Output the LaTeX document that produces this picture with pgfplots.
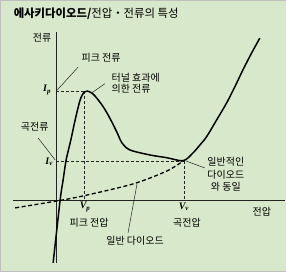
\documentclass[border=0pt]{standalone}
\usepackage{pgfplots}
\pgfplotsset{compat=1.18}
\usepackage{fontspec}
\setmainfont{Noto Sans CJK KR}
\newfontfamily\serif{Liberation Serif}
\definecolor{bg}{RGB}{216,232,202}
\definecolor{ink}{RGB}{35,35,35}
\begin{document}
\begin{tikzpicture}
\begin{axis}[x=1pt, y=1pt, xmin=-56, xmax=230, ymin=-70.5, ymax=200.5,
  hide axis, clip=false, scale only axis,
  every node/.style={text=ink, font=\fontsize{10}{12}\selectfont, inner sep=0pt}]
% background
\addplot[fill=bg, draw=black!25, line width=0.5pt] coordinates {(-56,-70.5) (230,-70.5) (230,200.5) (-56,200.5)} -- cycle;
% axes
\addplot[ink, line width=0.8pt] coordinates {(-43,0) (229,0)};
\addplot[ink, line width=0.8pt] coordinates {(0,-62.5) (0,168.5)};
% guide dashed lines
\addplot[ink, line width=0.7pt, dash pattern=on 3pt off 2pt] coordinates {(0,109.5) (29,109.5) (28,109.5) (28,0)};
\addplot[ink, line width=0.7pt, dash pattern=on 3pt off 2pt] coordinates {(0,39.5) (128,39.5)};
\addplot[ink, line width=0.7pt, dash pattern=on 3pt off 2pt] coordinates {(128,39.5) (128,0)};
% normal diode (dashed)
\addplot[black, line width=1.3pt, dash pattern=on 4pt off 2.5pt, smooth] coordinates {
(-41,-7.5) (4,0) (27,4.5) (77,16.5) (111,29.5) (128,40)};
% tunnel diode curve
\addplot[black, line width=1.5pt, smooth, tension=0.5] coordinates {
(-3,-62.5) (4,0.5) (7,20.5) (10,40.5) (14.7,60.5) (19,80.5) (24,100.5) (28,108.5)
(31,109.5) (35,108) (39,104.5) (47,94) (54,82) (61,68) (66,57.5) (74,50.5)
(94,45.5) (110.7,42.8) (127.3,39.8) (137,47.5) (144,55.5) (150.7,63.8)
(160.7,80.5) (170.7,97.5) (179,113.8) (187,130.5) (195.7,147.5) (204,162.5)};
% leader lines
\addplot[ink, line width=0.5pt] coordinates {(1,110.5) (22,133.5)};
\addplot[ink, line width=0.5pt] coordinates {(36,108) (49,117)};
\addplot[ink, line width=0.5pt] coordinates {(-18,62.5) (-1,40.5)};
\addplot[ink, line width=0.5pt] coordinates {(130,39.5) (149,32.5)};
\addplot[ink, line width=0.5pt] coordinates {(72,-32.5) (81,16.5)};
% labels
\node[anchor=west, font=\fontsize{11.4}{13}\selectfont] at (axis cs:-46,186.5) {{\bfseries 에사키다이오드/}전압・전류의 특성};
\node at (axis cs:-14,162.5) {전류};
\node at (axis cs:45,142.5) {피크 전류};
\node[anchor=west] at (axis cs:52,122.5) {터널 효과에};
\node[anchor=west] at (axis cs:52,111.5) {의한 전류};
\node at (axis cs:-21.5,73.5) {곡전류};
\node[font=\fontsize{10}{12}\selectfont] at (axis cs:-9,110.5) {\serif\bfseries\itshape I\textsubscript{p}};
\node[font=\fontsize{10}{12}\selectfont] at (axis cs:-7,38.5) {\serif\bfseries\itshape I\textsubscript{v}};
\node[font=\fontsize{10}{12}\selectfont] at (axis cs:29,-6.5) {\serif\bfseries\itshape V\textsubscript{p}};
\node[font=\fontsize{10}{12}\selectfont] at (axis cs:128,-6.5) {\serif\bfseries\itshape V\textsubscript{v}};
\node[align=center, font=\fontsize{10}{12.5}\selectfont] at (axis cs:170,26) {일반적인\\다이오드\\와 동일};
\node at (axis cs:33,-22.5) {피크 전압};
\node at (axis cs:131,-22.5) {곡전압};
\node at (axis cs:79,-40.5) {일반 다이오드};
\node at (axis cs:206,-11.5) {전압};
\end{axis}
\end{tikzpicture}
\end{document}
